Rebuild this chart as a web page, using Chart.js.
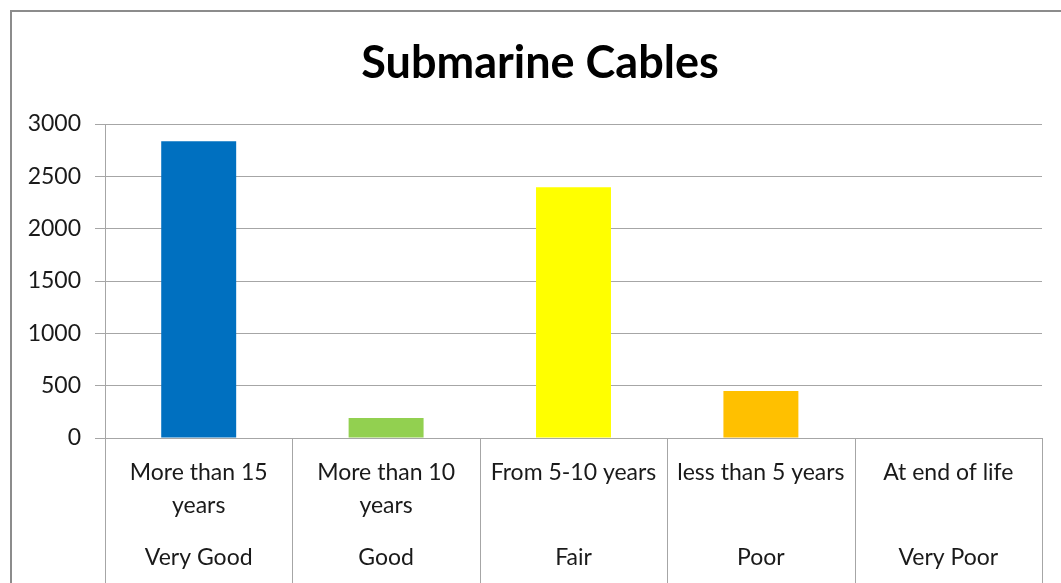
<!DOCTYPE html>
<html>
<head>
<meta charset="utf-8">
<script src="https://cdn.jsdelivr.net/npm/chart.js"></script>
<style>
  html, body { margin: 0; padding: 0; background: #fff; }
  #wrap { width: 1061px; height: 583px; }
</style>
</head>
<body>
<div id="wrap"><canvas id="chart-canvas" width="1061" height="583"></canvas></div>
<script>
// data
const ageLabels = [
  ["More than 15", "years"],
  ["More than 10", "years"],
  ["From 5-10 years"],
  ["less than 5 years"],
  ["At end of life"]
];
const gradeLabels = ["Very Good", "Good", "Fair", "Poor", "Very Poor"];
const cableCounts = [2835, 190, 2395, 450, 0];
const barColors = ["#0070C0", "#92D050", "#FFFF00", "#FFC000", "#C00000"];
const yTicks = [0, 500, 1000, 1500, 2000, 2500, 3000];

const gridColor = "#a6a6a6";
const textFont = "Lato, 'Open Sans', sans-serif";

// frame + second row of category labels with the separators
const decor = {
  id: "decor",
  afterLayout(chart) {
    // title in the original sits a bit right of the plot centre
    if (chart.titleBlock) chart.titleBlock.left = 38;
  },
  beforeDraw(chart) {
    const ctx = chart.ctx;
    ctx.save();
    ctx.fillStyle = "#fff";
    ctx.fillRect(0, 0, chart.width, chart.height);
    ctx.strokeStyle = "#8c8c8c";
    ctx.lineWidth = 2;
    ctx.strokeRect(11, 11, chart.width + 20, chart.height + 20);
    ctx.restore();
  },
  afterDraw(chart) {
    const ctx = chart.ctx;
    const x = chart.scales.x;
    const area = chart.chartArea;
    ctx.save();
    ctx.strokeStyle = gridColor;
    ctx.lineWidth = 1;
    for (let i = 0; i <= gradeLabels.length; i++) {
      const px = Math.round(x.getPixelForValue(i - 0.5)) + 0.5;
      ctx.beginPath();
      ctx.moveTo(px, area.bottom);
      ctx.lineTo(px, chart.height);
      ctx.stroke();
    }
    ctx.fillStyle = "#1a1a1a";
    ctx.font = "23px " + textFont;
    ctx.textAlign = "center";
    ctx.textBaseline = "middle";
    gradeLabels.forEach((g, i) => {
      ctx.fillText(g, x.getPixelForValue(i), 558);
    });
    ctx.restore();
  }
};

new Chart(document.getElementById("chart-canvas").getContext("2d"), {
  type: "bar",
  data: {
    labels: ageLabels,
    datasets: [{
      data: cableCounts,
      backgroundColor: barColors,
      borderWidth: 0,
      barPercentage: 0.4,
      categoryPercentage: 1
    }]
  },
  options: {
    responsive: false,
    animation: false,
    layout: { padding: { left: 10, right: 19, top: 0, bottom: 0 } },
    plugins: {
      legend: { display: false },
      tooltip: { enabled: false },
      title: {
        display: true,
        text: "Submarine Cables",
        color: "#000",
        font: { family: textFont, size: 45, weight: "bold", lineHeight: 1.2 },
        padding: { top: 36, bottom: 34 }
      }
    },
    scales: {
      x: {
        offset: true,
        grid: { display: false, drawOnChartArea: false, drawTicks: false },
        border: { color: gridColor },
        ticks: {
          color: "#1a1a1a",
          font: { family: textFont, size: 23, lineHeight: 1.45 },
          padding: 18,
          maxRotation: 0,
          autoSkip: false
        },
        afterFit(s) { s.height = 145; }
      },
      y: {
        min: 0,
        max: 3000,
        afterBuildTicks(s) { s.ticks = yTicks.map(v => ({ value: v })); },
        grid: { color: gridColor, tickLength: 10 },
        border: { color: gridColor },
        ticks: {
          color: "#1a1a1a",
          font: { family: textFont, size: 23 },
          padding: 14,
          callback: v => String(v)
        },
        afterFit(s) { s.width = 95; }
      }
    }
  },
  plugins: [decor]
});
</script>
</body>
</html>
